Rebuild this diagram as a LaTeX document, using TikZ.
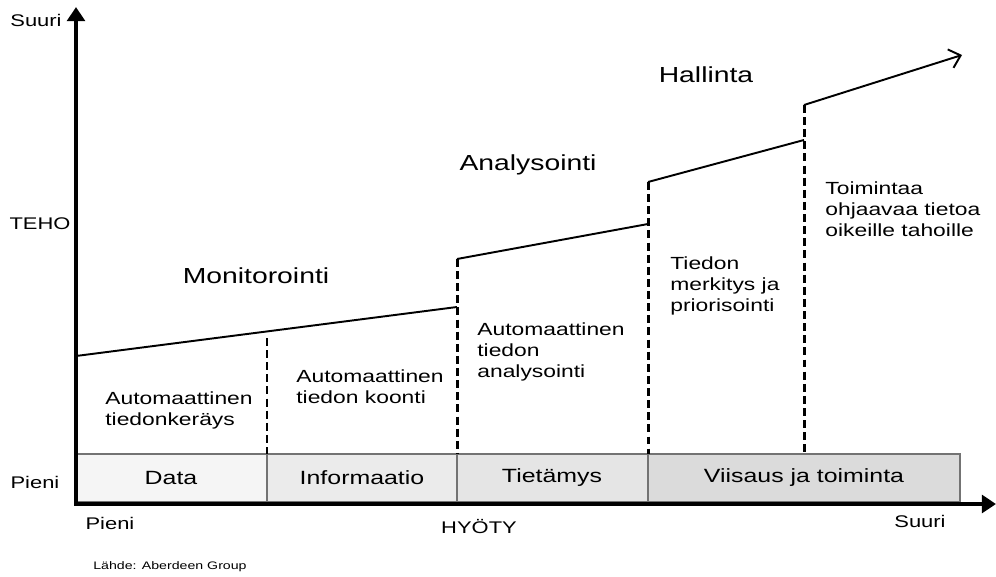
\documentclass[tikz,border=0pt]{standalone}
\usepackage{fontspec}
\setmainfont{Liberation Sans}[FakeStretch=1.3]
\usetikzlibrary{arrows.meta}

\begin{document}
\begin{tikzpicture}[x=0.02cm,y=-0.02cm,
  axis/.style={line width=2.2pt},
  ramp/.style={line width=1.1pt},
  sep/.style={line width=1.7pt,dash pattern=on 4.5pt off 2.4pt},
  seg/.style={draw=black!55,line width=0.6pt},
  big/.style={font=\fontsize{12.4}{14}\selectfont,inner sep=0pt},
  lbl/.style={font=\fontsize{10}{12}\selectfont,align=left,inner sep=0pt,anchor=north west},
  bar/.style={font=\fontsize{10.9}{13}\selectfont,inner sep=0pt},
  ax/.style={font=\fontsize{9.6}{11}\selectfont,inner sep=0pt}]
  \useasboundingbox (0,0) rectangle (996,577);
  % ---------- bar ----------
  \coordinate (top) at (0,454);
  \filldraw[seg,fill=black!4]  (76,454)  rectangle (267,502);
  \filldraw[seg,fill=black!8]  (267,454) rectangle (457,502);
  \filldraw[seg,fill=black!10] (457,454) rectangle (648,502);
  \filldraw[seg,fill=black!14] (648,454) rectangle (960,502);
  \node[bar] (data) at (171,478) {Data};
  \node[bar] (info) at (362,478) {Informaatio};
  \node[bar] (tieto) at (552,478) {Tietämys};
  \node[bar] (viisaus) at (804,478) {Viisaus ja toiminta};
  % ---------- axes ----------
  \coordinate (O) at (76,504);
  \coordinate (ytop) at (76,7);
  \coordinate (xend) at (996,504);
  \draw[axis,-{Triangle[length=8pt,width=10pt]}] ([yshift=-1.1pt]O) -- (ytop);
  \draw[axis,-{Triangle[length=8pt,width=10pt]}] ([xshift=-1.1pt]O) -- (xend);
  \node[ax] (ymax) at (36,20) {Suuri};
  \node[ax] (teho) at (40,224) {TEHO};
  \node[ax] (ymin) at (35,482) {Pieni};
  \node[ax] (xmin) at (110,523) {Pieni};
  \node[ax] (hyoty) at (479,527) {HYÖTY};
  \node[ax] (xmax) at (920,521) {Suuri};
  \node[ax,font=\fontsize{6.2}{7}\selectfont,anchor=west] (source) at (93,567) {Lähde: Aberdeen Group};
  % ---------- ramp ----------
  \coordinate (r0) at (76,356);
  \coordinate (r1) at (457,307);
  \coordinate (r2) at (457,259);
  \coordinate (r3) at (648,224);
  \coordinate (r4) at (648,182);
  \coordinate (r5) at (804,140);
  \coordinate (r6) at (804,105);
  \coordinate (r7) at (962,55);
  \draw[ramp] (r0) -- (r1);
  \draw[ramp] (r2) -- (r3);
  \draw[ramp] (r4) -- (r5);
  \draw[ramp,-{Straight Barb[length=6pt,width=11pt]}] (r6) -- (r7);
  % ---------- steps ----------
  \draw[sep] (267,338) -- (267,454);
  \draw[sep] (r2) -- (r2 |- top);
  \draw[sep] (r4) -- (r4 |- top);
  \draw[sep] (r6) -- (r6 |- top);
  % ---------- labels ----------
  \node[big] (mon) at (256,276) {Monitorointi};
  \node[big] (ana) at (528,165) {Analysointi};
  \node[big] (hal) at (706,75) {Hallinta};
  \node[lbl] (keruu) at (105,391) {Automaattinen\\tiedonkeräys};
  \node[lbl] (koonti) at (296,369) {Automaattinen\\tiedon koonti};
  \node[lbl] (analyysi) at (477,322) {Automaattinen\\tiedon\\analysointi};
  \node[lbl] (merkitys) at (670,256) {Tiedon\\merkitys ja\\priorisointi};
  \node[lbl] (toiminta) at (825,181) {Toimintaa\\ohjaavaa tietoa\\oikeille tahoille};
\end{tikzpicture}
\end{document}
